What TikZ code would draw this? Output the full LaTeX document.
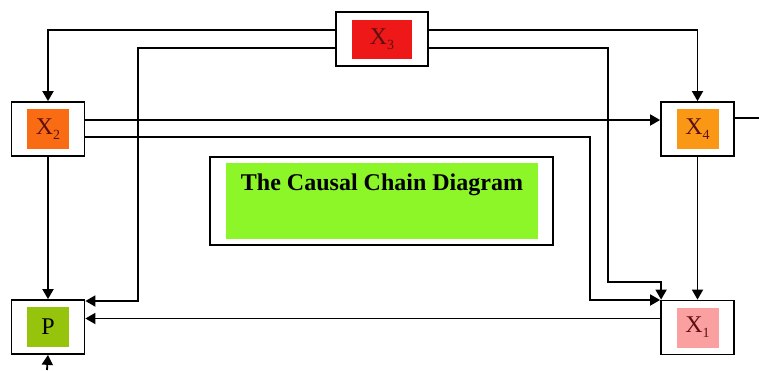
\documentclass[tikz,border=0pt]{standalone}
\usepackage{fontspec}
\setmainfont{Liberation Serif}
\usetikzlibrary{arrows.meta}
\definecolor{xred}{RGB}{238,24,24}
\definecolor{xorange}{RGB}{250,108,20}
\definecolor{xamber}{RGB}{250,152,22}
\definecolor{pgreen}{RGB}{150,196,12}
\definecolor{xpink}{RGB}{250,160,160}
\definecolor{tgreen}{RGB}{140,246,40}
\definecolor{xtext}{RGB}{95,15,15}
\tikzset{
  varbox/.style={draw, line width=1.8pt, fill=white, minimum width=73pt, minimum height=54pt, inner sep=0pt},
  varfill/.style={minimum width=42pt, minimum height=40pt, inner sep=0pt, text=xtext, font=\fontsize{24}{26}\selectfont},
  conn/.style={line width=1.8pt, -{Triangle[length=10pt,width=11pt]}},
}
\newcommand{\xlab}[1]{X\raisebox{-5pt}{\fontsize{14}{14}\selectfont #1}}
\begin{document}
\begin{tikzpicture}[x=1pt,y=-1pt]
	\useasboundingbox (0,0) rectangle (759,370);
	\node[varbox, minimum width=92pt] (x3) at (382,39) {};
	\node[varfill, fill=xred, minimum width=60pt, minimum height=39pt] (x3in) at (x3) {\xlab{3}};
	\node[varbox] (x2) at (48,129) {};
	\node[varfill, fill=xorange] (x2in) at (x2) {\xlab{2}};
	\node[varbox] (x4) at (697.5,129) {};
	\node[varfill, fill=xamber] (x4in) at (x4) {\xlab{4}};
	\node[varbox] (p) at (48,327) {};
	\node[varfill, fill=pgreen, text=black] (pin) at (p) {P};
	\node[varbox] (x1) at (697.5,327.5) {};
	\node[varfill, fill=xpink] (x1in) at (x1) {\xlab{1}};
	\node[draw, line width=1.8pt, minimum width=343pt, minimum height=88pt] (title) at (381.5,201) {};
	\node[fill=tgreen, minimum width=312pt, minimum height=76pt] (titlein) at (title) {};
	\node[anchor=base, font=\bfseries\fontsize{24}{26}\selectfont] (ttext) at (382,190) {The Causal Chain Diagram};
	\coordinate (c1) at (138,301);
	\coordinate (c2) at (608,282);
	\coordinate (c3) at (590,300);
	\coordinate (out) at (759,118);
	\coordinate (in) at (47,370);
	\draw[conn] ([yshift=9pt]x3.west) -| (x2.north);
	\draw[conn] ([yshift=-9pt]x3.west) -| (c1) -- (c1 -| p.east);
	\draw[conn] ([yshift=9pt]x3.east) -| (x4.north);
	\draw[conn] ([yshift=-9pt]x3.east) -| (c2) -| ([xshift=1pt]x1.north west);
	\draw[conn] ([yshift=9pt]x2.east) -- ([yshift=9pt]x4.west);
	\draw[conn] ([yshift=-8pt]x2.east) -| (c3) -- (c3 -| x1.west);
	\draw[conn] (x2.south) -- (p.north);
	\draw[conn] (x4.south) -- (x1.north);
	\draw[line width=1.8pt] ([yshift=11pt]x4.east) -- (out);
	\draw[conn] ([yshift=9pt]x1.west) -- ([yshift=9pt]x1.west -| p.east);
	\draw[conn] (in) -- (p.south);
\end{tikzpicture}
\end{document}
